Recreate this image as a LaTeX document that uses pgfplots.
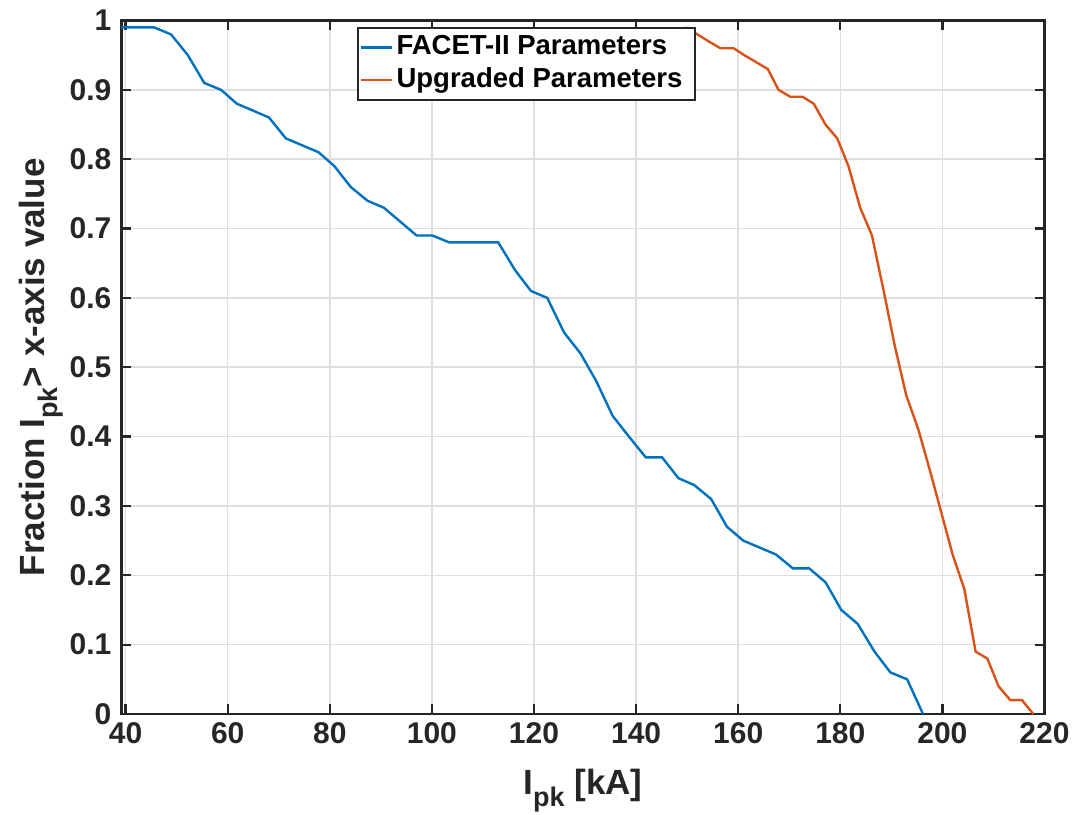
\documentclass[border=0pt]{standalone}
\usepackage{pgfplots}
\pgfplotsset{compat=1.18}
\usepackage{fontspec}
\setmainfont{Liberation Sans}
\definecolor{axc}{RGB}{38,38,38}
\definecolor{gridc}{RGB}{222,222,222}
\definecolor{mblue}{rgb}{0,0.447,0.741}
\definecolor{morange}{rgb}{0.850,0.325,0.098}
\pgfplotstableread{
x y
39.2 0.99
42.4 0.99
45.6 0.99
48.9 0.98
52.2 0.95
55.4 0.91
58.7 0.90
61.8 0.88
65.0 0.87
68.1 0.86
71.4 0.83
74.6 0.82
77.8 0.81
80.9 0.79
84.1 0.76
87.4 0.74
90.6 0.73
93.8 0.71
97.0 0.69
100.1 0.69
103.4 0.68
106.6 0.68
109.8 0.68
113.0 0.68
116.3 0.64
119.4 0.61
122.6 0.60
125.9 0.55
129.1 0.52
132.2 0.48
135.4 0.43
138.6 0.40
141.9 0.37
145.1 0.37
148.3 0.34
151.4 0.33
154.7 0.31
157.8 0.27
161.0 0.25
164.2 0.24
167.4 0.23
170.7 0.21
173.9 0.21
177.1 0.19
180.2 0.15
183.4 0.13
186.7 0.09
189.8 0.06
193.1 0.05
196.2 0.00
}\facet
\pgfplotstableread{
x y
149.7 0.99
152.0 0.98
154.2 0.97
156.5 0.96
159.1 0.96
161.2 0.95
163.5 0.94
165.8 0.93
167.9 0.90
170.2 0.89
172.6 0.89
174.8 0.88
177.1 0.85
179.4 0.83
181.6 0.79
183.9 0.73
186.2 0.69
188.5 0.61
190.7 0.53
192.9 0.46
195.3 0.41
197.6 0.35
199.8 0.29
202.0 0.23
204.3 0.18
206.5 0.09
208.8 0.08
211.0 0.04
213.3 0.02
215.6 0.02
217.8 0.00
}\upgraded
\begin{document}
\begin{tikzpicture}
\useasboundingbox (-121.5pt,-100pt) rectangle (951.5pt,714pt);
\begin{axis}[
  scale only axis, width=923pt, height=693.5pt,
  xmin=39.2, xmax=220, ymin=0, ymax=1,
  xtick={40,60,80,100,120,140,160,180,200,220},
  xticklabels={40,60,80,100,120,140,160,180,200,220},
  ytick={0,0.1,0.2,0.3,0.4,0.5,0.6,0.7,0.8,0.9,1},
  yticklabels={0,0.1,0.2,0.3,0.4,0.5,0.6,0.7,0.8,0.9,1},
  grid=major, major grid style={line width=1.6pt, color=gridc},
  axis line style={line width=2.2pt, color=axc},
  tick style={line width=2.2pt, color=axc}, major tick length=10pt, tick align=inside,
  tick label style={font=\fontsize{30}{30}\selectfont\bfseries, text=axc, inner sep=0pt},
  xticklabel style={anchor=north, yshift=-8pt},
  yticklabel style={anchor=east, xshift=-10pt},
  label style={font=\fontsize{35}{35}\selectfont\bfseries, text=axc},
  xlabel={I\raisebox{-0.36em}{\fontsize{27}{27}\selectfont pk} [kA]},
  ylabel={Fraction I\raisebox{-0.36em}{\fontsize{27}{27}\selectfont pk}> x-axis value},
  xlabel style={at={(axis description cs:0.5,0)}, anchor=base, yshift=-80pt},
  ylabel style={at={(axis description cs:0,0.5)}, anchor=base, yshift=76.5pt},
  legend style={at={(axis description cs:0.2548,0.991)}, anchor=north west,
    draw=axc, /tikz/line width=2pt, fill=white, inner xsep=2pt, inner ysep=3.5pt,
    font=\fontsize{27.5}{27.5}\selectfont\bfseries, text=black,
    row sep=0pt,
    nodes={inner xsep=3.5pt, inner ysep=2.7pt, text height=21pt, text depth=6pt}},
  legend cell align=left,
  legend image code/.code={\draw[#1,line width=2.4pt] (0pt,0pt) -- (31pt,0pt);},
]
\addplot[mblue, line width=2.4pt] table[x=x,y=y] {\facet};
\addlegendentry{FACET-II Parameters}
\addplot[morange, line width=2.4pt] table[x=x,y=y] {\upgraded};
\addlegendentry{Upgraded Parameters\hspace*{7pt}}
\end{axis}
\end{tikzpicture}
\end{document}
